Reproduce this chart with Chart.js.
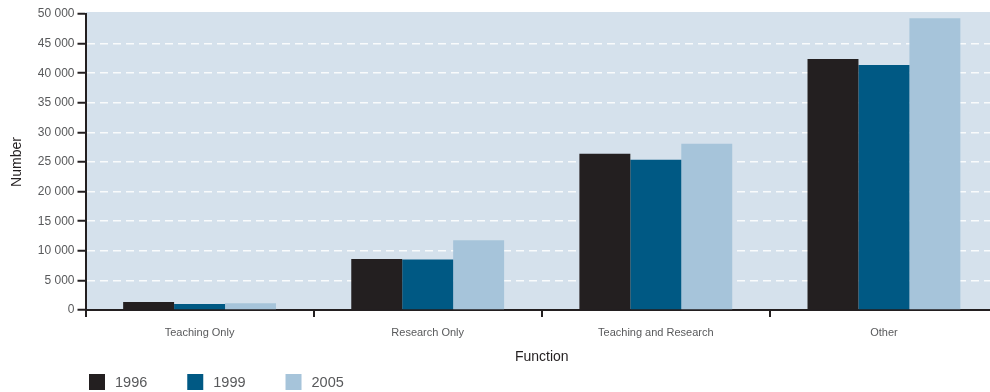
<!DOCTYPE html>
<html>
<head>
<meta charset="utf-8">
<script src="https://cdn.jsdelivr.net/npm/chart.js@4.4.1/dist/chart.umd.min.js"></script>
<style>
  html, body { margin: 0; padding: 0; background: #fff; overflow: hidden; }
  #wrap { width: 1000px; height: 392px; }
</style>
</head>
<body>
<div id="wrap"><canvas id="staffChart"></canvas></div>
<script>
// Staff numbers by function, 1996 / 1999 / 2005
const functions = ['Teaching Only', 'Research Only', 'Teaching and Research', 'Other'];
const years = ['1996', '1999', '2005'];
const staff1996 = [1350, 8600, 26400, 42400];
const staff1999 = [1000, 8550, 25400, 41400];
const staff2005 = [1150, 11800, 28100, 49300];
const yTicks = [0, 5000, 10000, 15000, 20000, 25000, 30000, 35000, 40000, 45000, 50000];

const colours = ['#231f20', '#005984', '#a6c4da'];
const font = "'Liberation Sans', Arial, sans-serif";
const ink = '#231f20';
const grey = '#58595b';

// shaded plot background
const plotBackground = {
  id: 'plotBackground',
  beforeDraw(chart) {
    const { ctx, chartArea: a } = chart;
    ctx.save();
    ctx.fillStyle = '#d5e1ec';
    ctx.fillRect(a.left, a.top - 2, a.right - a.left, a.bottom - a.top + 2);
    ctx.restore();
  }
};

// simple legend row under the axis title
const bottomLegend = {
  id: 'bottomLegend',
  afterDraw(chart) {
    const { ctx } = chart;
    const box = 16, gap = 10, spacing = 40;
    const cy = chart.height - 10;
    let x = 89;
    ctx.save();
    ctx.font = '14.5px ' + font;
    ctx.textBaseline = 'middle';
    chart.data.datasets.forEach(ds => {
      ctx.fillStyle = ds.backgroundColor;
      ctx.fillRect(x, cy - box / 2, box, box);
      ctx.fillStyle = grey;
      ctx.fillText(ds.label, x + box + gap, cy + 1);
      x += box + gap + ctx.measureText(ds.label).width + spacing;
    });
    ctx.restore();
  }
};

const ctx = document.getElementById('staffChart').getContext('2d');
new Chart(ctx, {
  type: 'bar',
  data: {
    labels: functions,
    datasets: [staff1996, staff1999, staff2005].map((values, i) => ({
      label: years[i],
      data: values,
      backgroundColor: colours[i],
      borderWidth: 0,
      categoryPercentage: 0.67,
      barPercentage: 1.0
    }))
  },
  options: {
    responsive: true,
    maintainAspectRatio: false,
    animation: false,
    layout: { padding: { top: 14, right: 2, left: 9, bottom: 26 } },
    plugins: {
      tooltip: { enabled: false },
      legend: { display: false }
    },
    scales: {
      x: {
        grid: {
          offset: true,
          drawOnChartArea: false,
          color: ink,
          tickColor: ink,
          tickLength: 7,
          lineWidth: 2
        },
        border: { color: ink, width: 2 },
        ticks: { color: grey, font: { family: font, size: 11 }, padding: 9 },
        title: {
          display: true,
          text: 'Function',
          color: ink,
          font: { family: font, size: 14 },
          padding: { top: 1, bottom: 0 }
        }
      },
      y: {
        min: 0,
        max: 50000,
        afterBuildTicks(scale) {
          scale.ticks = yTicks.map(v => ({ value: v }));
        },
        grid: {
          color: c => (c.tick && c.tick.value > 0 && c.tick.value < 50000) ? 'rgba(255,255,255,0.85)' : 'rgba(0,0,0,0)',
          lineWidth: 1.5,
          tickColor: ink,
          tickLength: 8,
          tickBorderDash: [],
          tickWidth: 2
        },
        border: { color: ink, width: 2, dash: [8, 5] },
        ticks: {
          color: grey,
          font: { family: font, size: 12 },
          padding: 3,
          callback: v => String(v).replace(/\B(?=(\d{3})+(?!\d))/g, ' ')
        },
        title: {
          display: true,
          text: 'Number',
          color: ink,
          font: { family: font, size: 14 },
          padding: { top: 0, bottom: 9 }
        }
      }
    }
  },
  plugins: [plotBackground, bottomLegend]
});
</script>
</body>
</html>
